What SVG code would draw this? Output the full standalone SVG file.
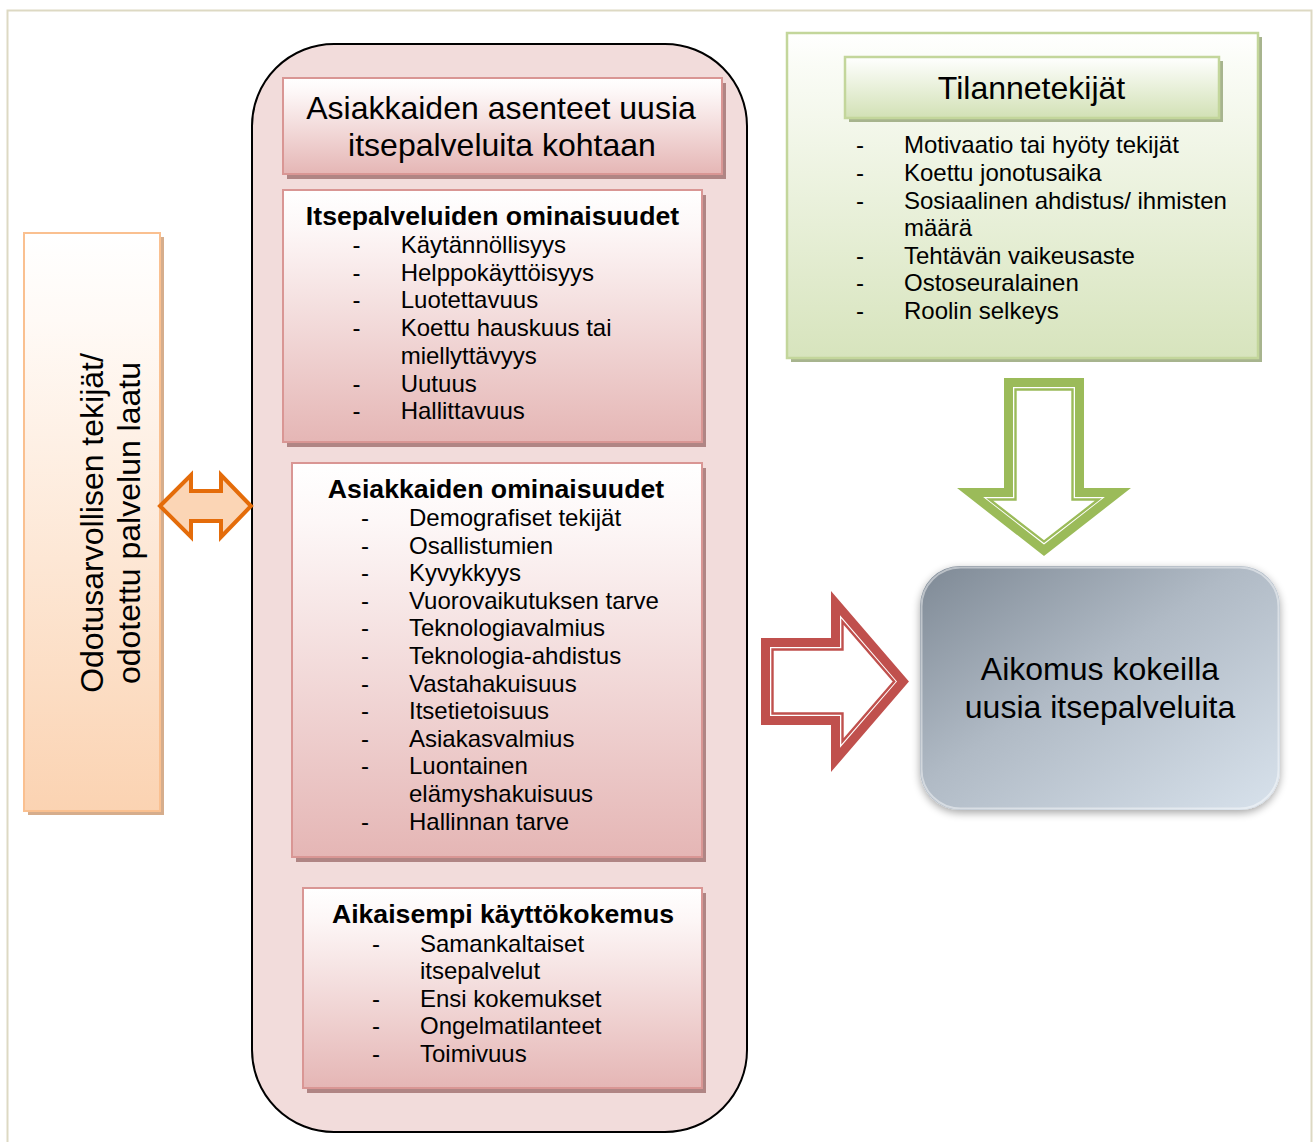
<svg xmlns="http://www.w3.org/2000/svg" width="1314" height="1142" viewBox="0 0 1314 1142">
  <defs>
    <linearGradient id="gPink" x1="0" y1="0" x2="0" y2="1">
      <stop offset="0" stop-color="#ffffff"/>
      <stop offset="0.15" stop-color="#fdf7f7"/>
      <stop offset="1" stop-color="#e5b6b5"/>
    </linearGradient>
    <linearGradient id="gOrange" x1="0" y1="0" x2="0" y2="1">
      <stop offset="0" stop-color="#ffffff"/>
      <stop offset="0.15" stop-color="#fffaf6"/>
      <stop offset="1" stop-color="#fbd3b2"/>
    </linearGradient>
    <linearGradient id="gGreen" x1="0" y1="0" x2="0" y2="1">
      <stop offset="0" stop-color="#ffffff"/>
      <stop offset="0.1" stop-color="#fafcf6"/>
      <stop offset="1" stop-color="#d7e4bd"/>
    </linearGradient>
    <linearGradient id="gGreenHead" x1="0" y1="0" x2="0" y2="1">
      <stop offset="0" stop-color="#ffffff"/>
      <stop offset="1" stop-color="#d2e1b5"/>
    </linearGradient>
    <linearGradient id="gSteel" x1="0" y1="0" x2="1" y2="1">
      <stop offset="0" stop-color="#7e8995"/>
      <stop offset="0.45" stop-color="#b0bac5"/>
      <stop offset="1" stop-color="#d8e2ec"/>
    </linearGradient>
    <filter id="soft" x="-10%" y="-10%" width="120%" height="125%">
      <feGaussianBlur in="SourceAlpha" stdDeviation="4"/>
      <feOffset dx="0" dy="3" result="b"/>
      <feComponentTransfer><feFuncA type="linear" slope="0.35"/></feComponentTransfer>
      <feMerge><feMergeNode/><feMergeNode in="SourceGraphic"/></feMerge>
    </filter>
    <style>
      .t { font-family: "Liberation Sans", Arial, sans-serif; fill: #000; }
      .item { font-size: 24px; }
      .head { font-size: 26.67px; font-weight: bold; text-anchor: middle; }
      .big { font-size: 32px; text-anchor: middle; }
      .pinkBox { fill: url(#gPink); stroke: #d99694; stroke-width: 2; }
      .pinkShadow { fill: #b08584; }
      .band { fill: none; stroke-width: 9; stroke-linejoin: miter; }
      .thin { fill: #ffffff; stroke-width: 2.4; stroke-linejoin: miter; }
    </style>
  </defs>

  <rect width="1314" height="1142" fill="#ffffff"/>
  <!-- page frame -->
  <rect x="7.5" y="10.5" width="1304" height="1160" fill="none" stroke="#ddd9c3" stroke-width="2"/>

  <!-- left: expectation factors -->
  <g id="node-expectations">
    <rect x="28" y="237" width="136" height="578" fill="#d6ad8c"/>
    <rect x="24" y="233" width="136" height="578" fill="url(#gOrange)" stroke="#fac090" stroke-width="2"/>
    <g class="t" transform="translate(121,523) rotate(-90)">
      <text class="big" x="0" y="-18">Odotusarvollisen tekijät/</text>
      <text class="big" x="0" y="18.8">odotettu palvelun laatu</text>
    </g>
  </g>

  <!-- centre: customer attitudes container -->
  <g id="node-attitudes">
    <rect x="252" y="44" width="495" height="1088" rx="82" ry="82" fill="#f2dcdb" stroke="#000" stroke-width="2"/>
    <rect x="287" y="83" width="439" height="96" class="pinkShadow"/>
    <rect x="283" y="78" width="439" height="96" class="pinkBox"/>
    <text class="t big" x="501" y="119">Asiakkaiden asenteet uusia</text>
    <text class="t big" x="502" y="156">itsepalveluita kohtaan</text>
  </g>

  <g id="node-service-features">
    <rect x="287" y="195" width="419" height="252" class="pinkShadow"/>
    <rect x="283" y="190" width="419" height="252" class="pinkBox"/>
    <text class="t head" x="492.5" y="225">Itsepalveluiden ominaisuudet</text>
    <g class="t item">
      <text x="352.5" y="252.7">-</text><text x="400.7" y="252.7">Käytännöllisyys</text>
      <text x="352.5" y="280.5">-</text><text x="400.7" y="280.5">Helppokäyttöisyys</text>
      <text x="352.5" y="308.2">-</text><text x="400.7" y="308.2">Luotettavuus</text>
      <text x="352.5" y="336">-</text><text x="400.7" y="336">Koettu hauskuus tai</text>
      <text x="400.7" y="363.8">miellyttävyys</text>
      <text x="352.5" y="391.6">-</text><text x="400.7" y="391.6">Uutuus</text>
      <text x="352.5" y="419.3">-</text><text x="400.7" y="419.3">Hallittavuus</text>
    </g>
  </g>

  <g id="node-customer-features">
    <rect x="296" y="468" width="410" height="394" class="pinkShadow"/>
    <rect x="292" y="463" width="410" height="394" class="pinkBox"/>
    <text class="t head" x="496" y="497.7">Asiakkaiden ominaisuudet</text>
    <g class="t item">
      <text x="361" y="526">-</text><text x="409" y="526">Demografiset tekijät</text>
      <text x="361" y="553.6">-</text><text x="409" y="553.6">Osallistumien</text>
      <text x="361" y="581.2">-</text><text x="409" y="581.2">Kyvykkyys</text>
      <text x="361" y="608.8">-</text><text x="409" y="608.8">Vuorovaikutuksen tarve</text>
      <text x="361" y="636.4">-</text><text x="409" y="636.4">Teknologiavalmius</text>
      <text x="361" y="664">-</text><text x="409" y="664">Teknologia-ahdistus</text>
      <text x="361" y="691.6">-</text><text x="409" y="691.6">Vastahakuisuus</text>
      <text x="361" y="719.2">-</text><text x="409" y="719.2">Itsetietoisuus</text>
      <text x="361" y="746.8">-</text><text x="409" y="746.8">Asiakasvalmius</text>
      <text x="361" y="774.4">-</text><text x="409" y="774.4">Luontainen</text>
      <text x="409" y="802">elämyshakuisuus</text>
      <text x="361" y="829.6">-</text><text x="409" y="829.6">Hallinnan tarve</text>
    </g>
  </g>

  <g id="node-prior-experience">
    <rect x="307" y="893" width="399" height="200" class="pinkShadow"/>
    <rect x="303" y="888" width="399" height="200" class="pinkBox"/>
    <text class="t head" x="503" y="923">Aikaisempi käyttökokemus</text>
    <g class="t item">
      <text x="372" y="951.7">-</text><text x="420" y="951.7">Samankaltaiset</text>
      <text x="420" y="979.2">itsepalvelut</text>
      <text x="372" y="1006.7">-</text><text x="420" y="1006.7">Ensi kokemukset</text>
      <text x="372" y="1034.2">-</text><text x="420" y="1034.2">Ongelmatilanteet</text>
      <text x="372" y="1061.7">-</text><text x="420" y="1061.7">Toimivuus</text>
    </g>
  </g>

  <!-- top right: situational factors -->
  <g id="node-situational">
    <rect x="791" y="37" width="471" height="325" fill="#a7b48e"/>
    <rect x="787" y="33" width="471" height="325" fill="url(#gGreen)" stroke="#c3d69b" stroke-width="2.5"/>
    <rect x="849" y="61" width="374" height="61" fill="#a7b48e"/>
    <rect x="845" y="57" width="374" height="61" fill="url(#gGreenHead)" stroke="#c3d69b" stroke-width="2.5"/>
    <text class="t big" x="1031.5" y="99">Tilannetekijät</text>
    <g class="t item">
      <text x="856" y="153.3">-</text><text x="904" y="153.3">Motivaatio tai hyöty tekijät</text>
      <text x="856" y="180.9">-</text><text x="904" y="180.9">Koettu jonotusaika</text>
      <text x="856" y="208.5">-</text><text x="904" y="208.5">Sosiaalinen ahdistus/ ihmisten</text>
      <text x="904" y="236.1">määrä</text>
      <text x="856" y="263.7">-</text><text x="904" y="263.7">Tehtävän vaikeusaste</text>
      <text x="856" y="291.3">-</text><text x="904" y="291.3">Ostoseuralainen</text>
      <text x="856" y="318.9">-</text><text x="904" y="318.9">Roolin selkeys</text>
    </g>
  </g>

  <!-- right: outcome -->
  <g id="node-intention">
    <rect x="920" y="566" width="360" height="244" rx="40" ry="40" fill="url(#gSteel)" filter="url(#soft)"/>
    <rect x="921.5" y="567.5" width="357" height="241" rx="39" ry="39" fill="none" stroke="#ffffff" stroke-opacity="0.45" stroke-width="2"/>
    <text class="t big" x="1100" y="680">Aikomus kokeilla</text>
    <text class="t big" x="1100" y="718">uusia itsepalveluita</text>
  </g>

  <!-- block arrows between the nodes -->
  <g id="connectors">
    <!-- two-way arrow: expectations <-> attitudes -->
    <polygon points="160,506 191,475 191,491 221,491 221,475 251,506 221,537 221,521 191,521 191,537"
             fill="#fbd5b5" stroke="#e46c0a" stroke-width="4" stroke-linejoin="miter"/>
    <!-- situational factors -> intention -->
    <polygon class="band" stroke="#9bbb59"
             points="1008.5,382.5 1079.5,382.5 1079.5,492.5 1117.9,492.5 1044,550.3 970.1,492.5 1008.5,492.5"/>
    <polygon class="thin" stroke="#9bbb59"
             points="1015.5,389.5 1072.5,389.5 1072.5,499.5 1098.4,499.5 1044,541.6 989.6,499.5 1015.5,499.5"/>
    <!-- attitudes -> intention -->
    <polygon class="band" stroke="#c0504d"
             points="765.5,642.5 835.5,642.5 835.5,603.1 903,681.5 835.5,759.9 835.5,720.5 765.5,720.5"/>
    <polygon class="thin" stroke="#c0504d"
             points="772.5,649.5 842.5,649.5 842.5,621.8 894.2,681.5 842.5,741.2 842.5,713.5 772.5,713.5"/>
  </g>
</svg>
